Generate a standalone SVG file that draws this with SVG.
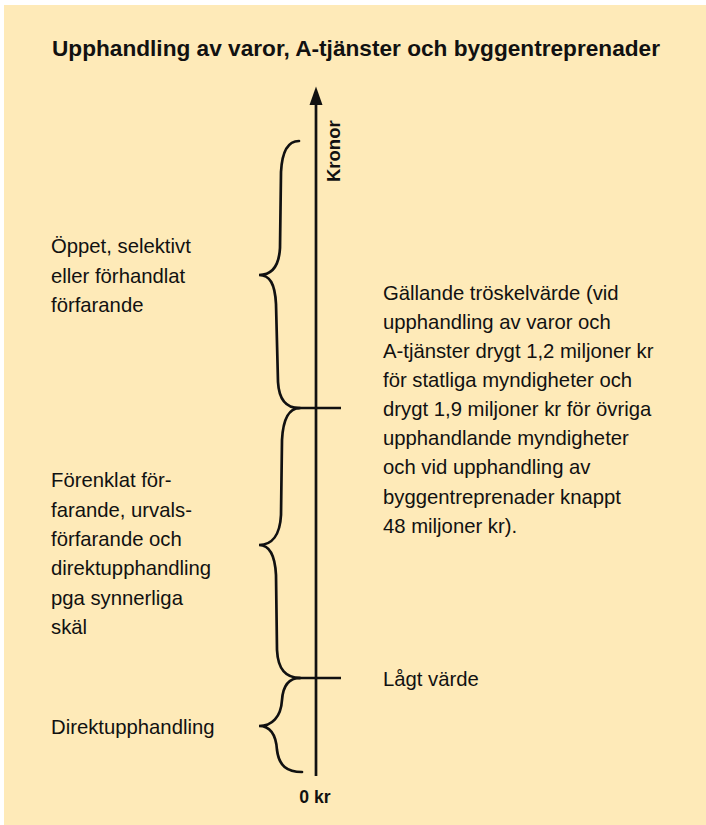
<svg xmlns="http://www.w3.org/2000/svg" width="706" height="825" viewBox="0 0 706 825">
  <style>
    .t { font-family: "Liberation Sans", Arial, sans-serif; font-size: 20.3px; fill: #111; }
    .b { font-family: "Liberation Sans", Arial, sans-serif; font-weight: bold; fill: #111; }
    .br { fill: none; stroke: #111; stroke-width: 2.7; stroke-linecap: round; }
    .ln { fill: none; stroke: #111; stroke-width: 2.7; }
    .ah { fill: #111; stroke: none; }
  </style>
  <rect x="0" y="0" width="706" height="825" fill="#ffffff"/>
  <rect x="4" y="5" width="702" height="820" fill="#FEEAB8"/>

  <g id="title">
    <text class="b" x="52" y="56" font-size="22" textLength="608" lengthAdjust="spacingAndGlyphs">Upphandling av varor, A-tjänster och byggentreprenader</text>
  </g>

  <g id="connectors">
    <line class="ln" x1="316" y1="776" x2="316" y2="100"/>
    <polygon class="ah" points="316,86.5 322.5,105 309.5,105"/>
    <line class="ln" x1="293" y1="408" x2="341" y2="408"/>
    <line class="ln" x1="293" y1="678" x2="341" y2="678"/>
  </g>

  <g id="axis-labels">
    <text class="b" font-size="18.5" transform="translate(340,182) rotate(-90)">Kronor</text>
    <text class="b" font-size="17.6" x="315" y="803" text-anchor="middle">0 kr</text>
  </g>

  <g id="brace-upper">
    <path class="br" d="M299,141 C287,141 282,152 281,172 L280,248 C279,266 272,275 259,275 C270,275 275,284 276,304 L278,382 C279,400 286,408 299,408"/>
  </g>
  <g id="brace-middle">
    <path class="br" d="M300,408 C288,408 283,420 282,440 L281,515 C280,535 272,545 259,545 C270,545 275,555 276,575 L277,650 C278,670 286,678 300,678"/>
  </g>
  <g id="brace-lower">
    <path class="br" d="M300,678 C288,678 283,686 282,700 C281,717 272,726 259,726 C270,726 276,735 277,750 C279,766 287,772 302,772"/>
  </g>

  <g id="label-oppet">
    <text class="t" x="51" y="253">Öppet, selektivt</text>
    <text class="t" x="51" y="283">eller förhandlat</text>
    <text class="t" x="51" y="312">förfarande</text>
  </g>
  <g id="label-forenklat">
    <text class="t" x="51" y="487">Förenklat för-</text>
    <text class="t" x="51" y="516.5">farande, urvals-</text>
    <text class="t" x="51" y="546">förfarande och</text>
    <text class="t" x="51" y="575">direktupphandling</text>
    <text class="t" x="51" y="604.5">pga synnerliga</text>
    <text class="t" x="51" y="633.5">skäl</text>
  </g>
  <g id="label-direkt">
    <text class="t" x="51" y="734">Direktupphandling</text>
  </g>
  <g id="label-troskel">
    <text class="t" x="383" y="299.5">Gällande tröskelvärde (vid</text>
    <text class="t" x="383" y="328.5">upphandling av varor och</text>
    <text class="t" x="383" y="357.5">A-tjänster drygt 1,2 miljoner kr</text>
    <text class="t" x="383" y="386.5">för statliga myndigheter och</text>
    <text class="t" x="383" y="415.5">drygt 1,9 miljoner kr för övriga</text>
    <text class="t" x="383" y="445">upphandlande myndigheter</text>
    <text class="t" x="383" y="474">och vid upphandling av</text>
    <text class="t" x="383" y="503.5">byggentreprenader knappt</text>
    <text class="t" x="383" y="532.5">48 miljoner kr).</text>
  </g>
  <g id="label-lagt">
    <text class="t" x="383" y="686">Lågt värde</text>
  </g>
</svg>
